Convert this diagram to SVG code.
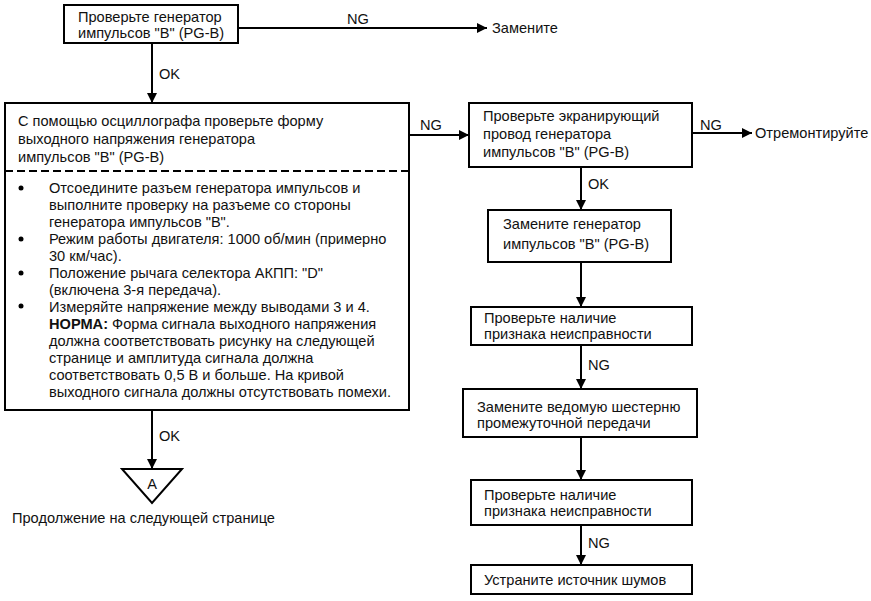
<svg xmlns="http://www.w3.org/2000/svg" width="871" height="601" viewBox="0 0 871 601">
<defs>
<marker id="ah" viewBox="0 0 10 10" refX="10" refY="5" markerWidth="10" markerHeight="10" markerUnits="userSpaceOnUse" orient="auto">
<path d="M0,0 L10,5 L0,10 z" fill="#000"/>
</marker>
<style>
text{font-family:"Liberation Sans",Arial,sans-serif;font-size:14.6px;fill:#111}
.box{fill:#fff;stroke:#000;stroke-width:2}
.ln{fill:none;stroke:#000;stroke-width:2}
.arr{fill:none;stroke:#000;stroke-width:2;marker-end:url(#ah)}
.b{font-weight:bold}
</style>
</defs>
<rect width="871" height="601" fill="#fff"/>
<g id="connectors">
<line class="arr" x1="238" y1="28" x2="487" y2="28"/>
<line class="arr" x1="152" y1="43" x2="152" y2="103"/>
<line class="arr" x1="409" y1="135" x2="469" y2="135"/>
<line class="arr" x1="692" y1="133" x2="752" y2="133"/>
<line class="arr" x1="581" y1="167" x2="581" y2="210"/>
<line class="arr" x1="581" y1="262" x2="581" y2="307"/>
<line class="arr" x1="581" y1="345" x2="581" y2="389"/>
<line class="arr" x1="581" y1="437" x2="581" y2="480"/>
<line class="arr" x1="581" y1="525" x2="581" y2="565"/>
<line class="arr" x1="152" y1="410" x2="152" y2="469"/>
<text x="347" y="24">NG</text>
<text x="159" y="79">OK</text>
<text x="420" y="130">NG</text>
<text x="700" y="130">NG</text>
<text x="588" y="189">OK</text>
<text x="588" y="370">NG</text>
<text x="588" y="548">NG</text>
<text x="159" y="441">OK</text>
</g>
<g id="n1">
<rect class="box" x="64" y="5" width="174" height="38"/>
<text x="78" y="22">Проверьте генератор</text>
<text x="78" y="38">импульсов "B" (PG-B)</text>
</g>
<g id="n-replace">
<text x="492" y="33">Замените</text>
</g>
<g id="n2">
<rect class="box" x="5" y="103" width="404" height="307"/>
<line class="ln" x1="5" y1="171" x2="409" y2="171" stroke-dasharray="8,4"/>
<text x="18" y="126">С помощью осциллографа проверьте форму</text>
<text x="18" y="144">выходного напряжения генератора</text>
<text x="18" y="162">импульсов "B" (PG-B)</text>
<circle cx="21" cy="188" r="2.5"/>
<circle cx="21" cy="239" r="2.5"/>
<circle cx="21" cy="273" r="2.5"/>
<circle cx="21" cy="306" r="2.5"/>
<text x="49" y="193">Отсоедините разъем генератора импульсов и</text>
<text x="49" y="210">выполните проверку на разъеме со стороны</text>
<text x="49" y="227">генератора импульсов "B".</text>
<text x="49" y="244">Режим работы двигателя: 1000 об/мин (примерно</text>
<text x="49" y="261">30 км/час).</text>
<text x="49" y="278">Положение рычага селектора АКПП: "D"</text>
<text x="49" y="295">(включена 3-я передача).</text>
<text x="49" y="312">Измеряйте напряжение между выводами 3 и 4.</text>
<text x="49" y="329"><tspan class="b">НОРМА:</tspan> Форма сигнала выходного напряжения</text>
<text x="49" y="346">должна соответствовать рисунку на следующей</text>
<text x="49" y="363">странице и амплитуда сигнала должна</text>
<text x="49" y="380">соответствовать 0,5 В и больше. На кривой</text>
<text x="49" y="397">выходного сигнала должны отсутствовать помехи.</text>
</g>
<g id="n3">
<rect class="box" x="469" y="103" width="223" height="64"/>
<text x="483" y="121">Проверьте экранирующий</text>
<text x="483" y="139">провод генератора</text>
<text x="483" y="157">импульсов "B" (PG-B)</text>
</g>
<g id="n-repair">
<text x="755" y="138">Отремонтируйте</text>
</g>
<g id="n4">
<rect class="box" x="488" y="210" width="183" height="52"/>
<text x="503" y="229">Замените генератор</text>
<text x="503" y="249">импульсов "B" (PG-B)</text>
</g>
<g id="n5">
<rect class="box" x="471" y="307" width="221" height="38"/>
<text x="484" y="323">Проверьте наличие</text>
<text x="484" y="339">признака неисправности</text>
</g>
<g id="n6">
<rect class="box" x="463" y="389" width="234" height="48"/>
<text x="477" y="412">Замените ведомую шестерню</text>
<text x="477" y="428">промежуточной передачи</text>
</g>
<g id="n7">
<rect class="box" x="471" y="480" width="221" height="45"/>
<text x="484" y="500">Проверьте наличие</text>
<text x="484" y="516">признака неисправности</text>
</g>
<g id="n8">
<rect class="box" x="471" y="565" width="221" height="29"/>
<text x="484" y="585">Устраните источник шумов</text>
</g>
<g id="nA">
<polygon class="box" points="122,469 182,469 152,503"/>
<text x="152" y="489" text-anchor="middle">A</text>
<text x="12" y="523">Продолжение на следующей странице</text>
</g>
</svg>
